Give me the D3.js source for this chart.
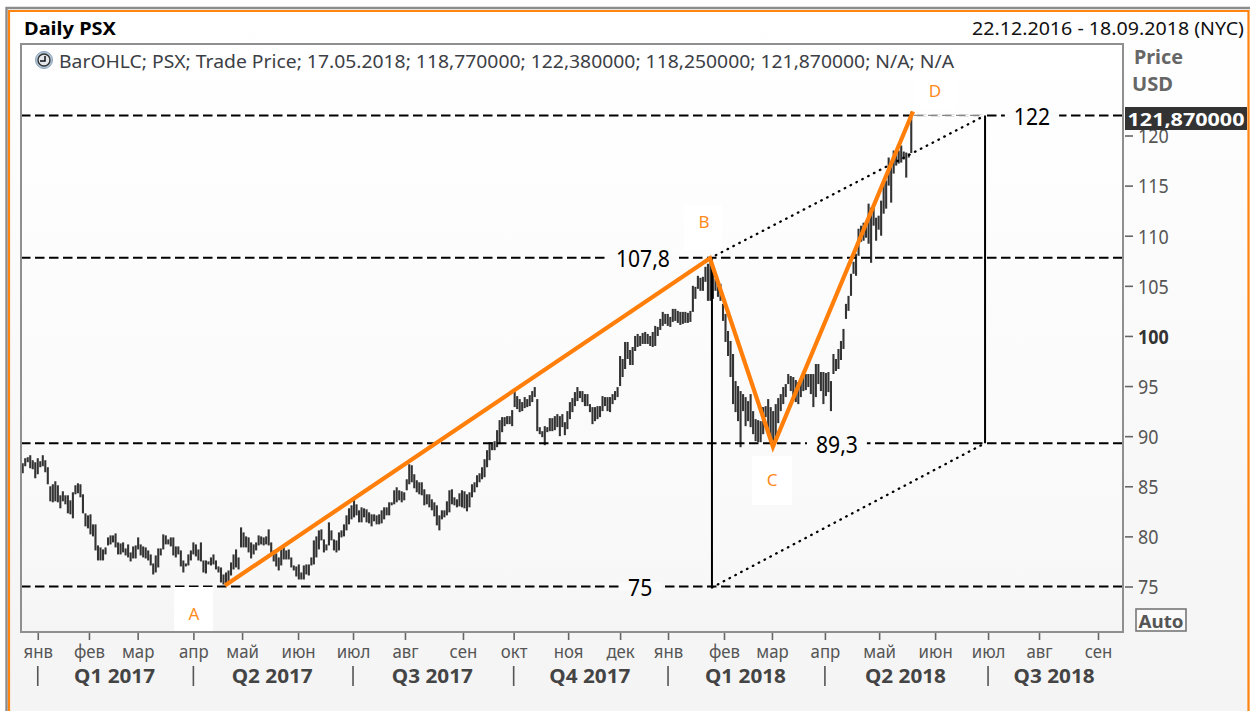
<!DOCTYPE html>
<html><head><meta charset="utf-8">
<script src="https://cdn.jsdelivr.net/npm/d3@7/dist/d3.min.js"></script>
<style>
html,body{margin:0;padding:0;background:#fff;overflow:hidden}
svg{display:block}
text{font-family:"Noto Sans",sans-serif}
</style></head><body>
<svg id="c" width="1256" height="711"></svg>
<script>
const highs=[
87.3,87.8,87.9,88.1,87.6,87.4,87.8,87.5,88.1,87.6,
86.9,85.0,85.2,85.5,85.1,84.1,84.5,84.1,84.1,83.6,
84.4,85.1,85.3,85.2,84.2,82.3,82.1,82.2,81.2,81.2,
79.1,78.9,78.7,78.9,79.9,80.1,80.1,80.3,79.4,79.3,
79.4,78.8,79.2,78.4,79.0,79.1,79.9,79.2,79.0,78.9,
78.6,78.2,77.3,78.1,78.8,78.8,80.2,80.1,79.7,79.9,
79.9,79.0,79.0,78.6,77.6,77.3,78.2,78.6,79.4,79.2,
78.7,79.4,77.6,77.6,77.5,77.9,78.2,77.6,77.0,76.9,
76.2,76.4,76.6,77.4,78.2,78.7,77.9,80.9,80.4,80.0,
79.9,79.4,79.2,79.4,80.1,80.0,79.9,80.0,80.7,79.4,
78.6,78.3,77.9,78.7,78.9,78.6,78.7,77.9,77.1,77.0,
77.2,76.4,77.1,77.2,77.2,77.9,79.6,80.0,80.6,80.7,
79.7,79.2,81.4,80.6,79.7,79.6,80.4,80.6,81.2,82.1,
82.8,83.1,83.7,83.2,82.6,82.9,82.8,82.7,82.4,82.2,
82.2,82.1,82.2,82.6,82.9,82.9,83.4,83.4,84.6,84.9,
84.6,84.5,84.4,85.7,87.2,87.1,86.2,85.6,85.4,85.4,
84.7,84.2,84.2,83.7,83.4,83.1,82.1,82.6,82.6,83.5,
84.6,84.7,83.9,83.7,84.3,84.6,84.5,84.2,84.4,85.2,
85.4,86.1,86.3,
86.9,87.7,88.6,89.4,89.4,89.5,90.6,91.6,91.9,91.9,92.0,92.0,92.6,
94.5,94.0,93.7,93.4,93.9,93.7,94.1,94.5,94.9,93.7,
90.9,90.5,91.0,90.9,91.8,91.8,92.0,92.2,92.0,92.2,
91.4,92.5,93.4,93.8,94.4,94.9,94.5,94.5,94.2,94.2,
93.2,92.9,92.9,93.0,93.0,94.0,93.9,93.9,93.9,94.2,
94.5,94.9,98.0,97.7,99.4,99.4,98.6,98.9,100.0,100.2,
100.0,100.3,100.4,100.2,100.0,100.4,101.0,100.9,101.7,102.4,
102.2,102.2,101.9,102.7,102.7,102.5,102.4,102.4,102.4,102.3,102.5,
105.0,104.9,106.0,105.8,105.9,106.9,107.2,107.7,106.5,105.7,
105.5,105.2,103.2,102.2,100.5,99.5,98.2,95.5,95.0,94.5,
94.2,93.9,93.5,94.2,92.5,91.7,91.6,91.5,92.9,93.0,
93.7,92.9,92.5,93.2,93.8,94.2,94.9,95.2,96.2,96.0,
95.9,95.6,95.4,95.4,96.2,96.2,96.2,96.2,96.2,97.2,
97.2,96.4,96.4,96.3,96.4,95.5,98.2,97.7,98.7,99.5,
100.7,103.2,104.0,106.2,
107.4,108.2,110.7,111.0,111.3,111.5,113.2,112.8,113.0,111.8,
112.0,113.5,115.3,115.5,117.8,117.0,118.5,118.2,118.5,119.0,
118.4,118.3,118.2,122.38];
const lows=[
86.3,87.0,87.4,86.8,86.7,85.8,86.2,86.9,87.0,86.4,
85.2,83.5,83.4,83.5,83.4,82.8,83.5,83.2,82.3,82.2,
81.8,84.2,84.3,83.9,82.3,81.0,80.8,80.2,80.0,78.6,
77.6,77.6,77.6,78.2,79.1,79.2,79.4,78.9,78.2,78.2,
78.4,78.1,77.9,77.5,77.8,77.8,78.7,78.1,77.9,77.8,
77.6,77.1,76.2,76.4,76.9,78.1,78.7,79.2,79.2,79.0,
78.1,77.9,78.2,77.0,76.4,77.0,77.1,77.6,78.2,78.0,
77.6,77.5,76.4,76.3,77.2,77.1,77.2,76.7,76.4,75.4,
75.2,75.1,75.4,76.1,76.7,76.9,76.7,78.9,78.9,78.9,
78.4,77.8,78.2,78.6,79.1,79.2,79.1,79.2,79.1,78.2,
77.5,77.0,76.6,77.1,77.7,77.7,77.7,76.9,76.6,76.0,
75.7,75.7,75.7,76.2,76.1,77.1,77.2,77.9,78.7,79.6,
78.4,78.6,79.1,79.6,78.6,78.4,78.6,79.9,80.0,80.6,
81.2,81.7,81.9,82.1,81.4,81.4,81.9,81.4,81.3,81.0,
81.5,81.2,81.2,81.3,81.7,82.1,82.1,83.1,83.2,83.4,
83.6,83.4,83.6,84.6,85.2,85.4,84.8,84.4,84.2,84.1,
83.1,83.2,82.9,82.6,82.0,81.1,80.6,81.7,81.9,82.1,
82.4,83.2,83.1,82.9,83.0,82.9,82.8,82.5,82.9,83.9,
84.4,84.9,85.4,
85.7,85.9,86.9,87.6,88.6,88.6,88.9,89.2,90.4,91.0,91.2,91.2,91.0,
92.9,92.7,92.4,92.5,92.8,92.9,93.0,93.4,93.9,90.5,
90.2,89.9,89.1,90.4,90.5,90.5,90.6,90.9,90.0,90.9,
90.1,90.7,91.7,92.4,93.0,93.5,93.8,93.4,93.0,93.0,
92.4,91.2,91.5,91.7,91.9,92.5,93.0,92.5,92.4,93.2,
93.6,93.9,95.0,95.9,96.7,97.7,97.1,97.1,98.5,98.9,
99.0,99.2,99.2,99.2,99.0,98.9,99.0,100.0,100.6,101.0,
101.2,101.0,100.9,101.4,101.5,101.3,101.1,101.2,101.3,101.3,101.4,
102.4,103.7,104.7,104.5,104.5,105.4,103.5,103.5,103.7,104.5,
103.9,103.5,101.5,99.4,98.0,95.9,93.2,92.4,91.5,88.9,
92.5,91.0,91.5,90.9,90.2,89.5,89.4,89.4,90.2,91.9,
90.5,89.2,89.5,89.9,91.3,92.5,93.2,93.9,95.2,94.5,
93.9,93.4,93.2,93.9,94.5,94.6,94.9,94.2,92.9,93.9,
95.2,94.5,93.2,94.0,94.4,92.5,96.2,96.5,96.7,97.6,
98.7,101.7,102.5,104.0,
106.2,106.0,108.0,109.4,109.5,109.8,109.2,107.3,111.0,109.5,
110.6,110.0,112.2,112.7,115.0,113.3,116.2,117.0,117.2,117.3,
117.6,115.8,117.8,118.25];

const monthLabels=["янв","фев","мар","апр","май","июн","июл","авг","сен","окт","ноя","дек","янв","фев","мар","апр","май","июн","июл","авг","сен"];
const monthTicks=[6,26.4,45.8,68,87.4,109.7,131.6,152.3,175.4,195.6,217.3,238,257.1,279.4,298.5,319.6,341.2,363.5,384.6,404.9,428.4];
const quarterLabels=["Q1 2017","Q2 2017","Q3 2017","Q4 2017","Q1 2018","Q2 2018","Q3 2018"];
const quarterStarts=[6,68,131.6,195.6,257.1,319.6,384.6,438];
const priceTicks=[75,80,85,90,95,100,105,110,115,120];
const levels=[122,107.8,89.3,75];
const levelText=["122","107,8","89,3","75"];
const levelTextIdx=[402.1,247.1,324.4,246];
const pivotNames=["A","B","C","D"];
const pivotIdx=[80.6,273.8,298.9,354.7];
const pivotPrice=[75.1,107.75,88.95,122.4];
const projectionIdx=[274.6,383.4];

const W=1256,H=711;
const pL=21,pT=44,pR=1123,pB=632;
const svg=d3.select("#c");
const x=d3.scaleLinear().domain([0,428.4]).range([22.7,1098]);
const y=d3.scaleLinear().domain([75,120]).range([586.5,135.5]);

const defs=svg.append("defs");
const grad=defs.append("linearGradient").attr("id","bg").attr("x1",0).attr("y1",0).attr("x2",0).attr("y2",1);
grad.append("stop").attr("offset",0).attr("stop-color","#ffffff");
grad.append("stop").attr("offset",1).attr("stop-color","#f4f4f4");
const grad2=defs.append("linearGradient").attr("id","bg2").attr("x1",0).attr("y1",0).attr("x2",0).attr("y2",1);
grad2.append("stop").attr("offset",0).attr("stop-color","#ffffff");
grad2.append("stop").attr("offset",0.85).attr("stop-color","#f9f9f9");
grad2.append("stop").attr("offset",1).attr("stop-color","#f5f5f5");

svg.append("rect").attr("x",6).attr("y",8).attr("width",1244).attr("height",710).attr("fill","url(#bg)");
svg.append("path").attr("d",`M6.5,${H} V8 H1250`).attr("fill","none").attr("stroke","#8c8c8c").attr("stroke-width",2.4);
svg.append("path").attr("d",`M9,${H} V11 H1248.5 V${H}`).attr("fill","none").attr("stroke","#ff8410").attr("stroke-width",2.2);

svg.append("rect").attr("x",pL).attr("y",pT).attr("width",pR-pL).attr("height",pB-pT).attr("fill","url(#bg2)");

const txt=(s,xp,yp,o={})=>{
  const t=svg.append("text").attr("x",xp).attr("y",yp).text(s)
    .attr("font-size",o.size||16).attr("fill",o.fill||"#000")
    .attr("font-weight",o.bold?"700":"400").attr("text-anchor",o.anchor||"start")
    .attr("dominant-baseline","central");
  if(o.len){t.attr("textLength",o.len).attr("lengthAdjust","spacingAndGlyphs");}
  return t;
};
const condense=(sel,f)=>sel.each(function(){
  const n=this.getComputedTextLength();
  d3.select(this).attr("textLength",n*f).attr("lengthAdjust","spacingAndGlyphs");
});

txt("Daily PSX",24,28,{size:17.5,bold:true,len:92});
txt("22.12.2016 - 18.09.2018 (NYC)",972,28,{size:17.5,len:272,fill:"#111"});
txt("BarOHLC; PSX; Trade Price; 17.05.2018; 118,770000; 122,380000; 118,250000; 121,870000; N/A; N/A",59,60,{size:18.5,len:895,fill:"#3c4046"});

// clock icon
const clock=svg.append("g").attr("transform","translate(44,60)");
clock.append("circle").attr("r",8.5).attr("fill","#b4c6d8").attr("stroke","#8ba3ba");
clock.append("circle").attr("r",6).attr("fill","#e3e6ea").attr("stroke","#333").attr("stroke-width",1.4);
clock.append("path").attr("d","M1,-4 V1 H-4").attr("fill","none").attr("stroke","#111").attr("stroke-width",1.5);

// price bars
const bars=d3.range(Math.min(highs.length,lows.length));
svg.append("g").selectAll("line").data(bars).join("line")
  .attr("x1",i=>x(i)).attr("x2",i=>x(i))
  .attr("y1",i=>y(highs[i])).attr("y2",i=>y(lows[i]))
  .attr("stroke","#333").attr("stroke-width",2.1);

// dashed levels
const ink=svg.append("g");
levels.forEach(v=>{
  ink.append("line").attr("x1",pL).attr("x2",1125).attr("y1",y(v)).attr("y2",y(v))
    .attr("stroke","#000").attr("stroke-width",2).attr("stroke-dasharray","9.5,4.5");
});
// lighter stretch of the top level, past the last pivot
ink.append("line").attr("x1",x(pivotIdx[3])+1).attr("x2",x(projectionIdx[1])-1).attr("y1",y(122)).attr("y2",y(122))
  .attr("stroke","#fff").attr("stroke-width",2.6);
ink.append("line").attr("x1",x(pivotIdx[3])+1).attr("x2",x(projectionIdx[1])-1).attr("y1",y(122)).attr("y2",y(122))
  .attr("stroke","#888").attr("stroke-width",1.2).attr("stroke-dasharray","9.5,4.5");

// projection verticals and dotted channel
[[projectionIdx[0],107.8,74.9],[projectionIdx[1],122,89.3]].forEach(([i,a,b])=>{
  ink.append("line").attr("x1",x(i)).attr("x2",x(i)).attr("y1",y(a)).attr("y2",y(b)).attr("stroke","#000").attr("stroke-width",2);
});
[[pivotIdx[1],107.75,projectionIdx[1],122],[projectionIdx[0],74.9,projectionIdx[1],89.3]].forEach(([i,a,j,b])=>{
  ink.append("line").attr("x1",x(i)).attr("x2",x(j)).attr("y1",y(a)).attr("y2",y(b))
    .attr("stroke","#000").attr("stroke-width",2.3).attr("stroke-linecap","round").attr("stroke-dasharray","0.6,6");
});

// level labels with a gap in the dashes
levels.forEach((v,k)=>{
  const t=txt(levelText[k],x(levelTextIdx[k]),y(v),{size:24,anchor:"middle",fill:"#000"});
  condense(t,0.88);
  const b=t.node().getBBox();
  svg.insert("rect","text:last-of-type").attr("x",b.x-9).attr("y",y(v)-4).attr("width",b.width+18).attr("height",8).attr("fill","#fbfbfb");
  t.raise();
});

// pivot label boxes
const pivotBox=[[174,587,39,44],[684,205,38,45],[752,456,40,49],[915,75,40,35]];
const pivotLabel=[[194,613],[704,221],[772,479],[935,90]];
pivotNames.forEach((n,k)=>{
  const b=pivotBox[k];
  svg.append("rect").attr("x",b[0]).attr("y",b[1]).attr("width",b[2]).attr("height",b[3]).attr("fill","#fff");
  txt(n,pivotLabel[k][0],pivotLabel[k][1],{size:17,anchor:"middle",fill:"#ff8a1c"});
});

// orange AB=CD path
const path=d3.line().x((d,i)=>x(pivotIdx[i])).y((d,i)=>y(pivotPrice[i]));
svg.append("path").attr("d",path(pivotNames)).attr("fill","none")
  .attr("stroke","#ff7f0a").attr("stroke-width",4.2).attr("stroke-linejoin","miter");

// plot frame
svg.append("path").attr("d",`M${pL},${pB} V${pT} H${pR} V${pB} Z`).attr("fill","none").attr("stroke","#8f8f8f").attr("stroke-width",2);

// y axis
const yAxis=d3.axisRight(y).tickValues(priceTicks).tickSize(8).tickPadding(5).tickFormat(d3.format("d"));
const gy=svg.append("g").attr("transform",`translate(${pR+2},0)`).call(yAxis);
gy.select(".domain").remove();
gy.selectAll("line").attr("stroke","#666").attr("stroke-width",1.6);
gy.selectAll("text").attr("font-size",19).attr("font-family",'"Noto Sans",sans-serif').attr("y",1.2)
  .attr("font-weight",d=>d===100?700:400).style("fill",d=>d===100?"#333":"#555");
condense(gy.selectAll("text"),0.94);

// x axis
const xAxis=d3.axisBottom(x).tickValues(monthTicks).tickSize(7).tickPadding(6).tickFormat((d,i)=>monthLabels[i]);
const gx=svg.append("g").attr("transform",`translate(0,${pB+1})`).call(xAxis);
gx.select(".domain").remove();
gx.selectAll("line").attr("stroke","#666").attr("stroke-width",1.6);
gx.selectAll("text").attr("font-size",17.5).attr("font-family",'"Noto Sans",sans-serif').attr("fill","#555");
condense(gx.selectAll("text"),0.96);

// quarter row
quarterLabels.forEach((q,k)=>{
  const xm=(x(quarterStarts[k])+x(quarterStarts[k+1]))/2-1;
  txt(q,xm,675,{size:19.5,bold:true,anchor:"middle",fill:"#444",len:81});
  svg.append("line").attr("x1",x(quarterStarts[k])).attr("x2",x(quarterStarts[k])).attr("y1",666).attr("y2",686)
    .attr("stroke","#555").attr("stroke-width",1.6);
});

// right side labels
txt("Price",1134,57,{size:19,bold:true,fill:"#666",len:49});
txt("USD",1132,84,{size:19,bold:true,fill:"#666",len:41});
svg.append("rect").attr("x",1125).attr("y",107).attr("width",122).attr("height",23).attr("fill","#333");
txt("121,870000",1186,118.5,{size:18.5,bold:true,fill:"#fff",anchor:"middle",len:117});
svg.append("rect").attr("x",1136).attr("y",609).attr("width",50).attr("height",22).attr("fill","#fafafa").attr("stroke","#777").attr("stroke-width",1.6);
txt("Auto",1161,620.5,{size:18,bold:true,fill:"#555",anchor:"middle",len:45});
</script>
</body></html>
